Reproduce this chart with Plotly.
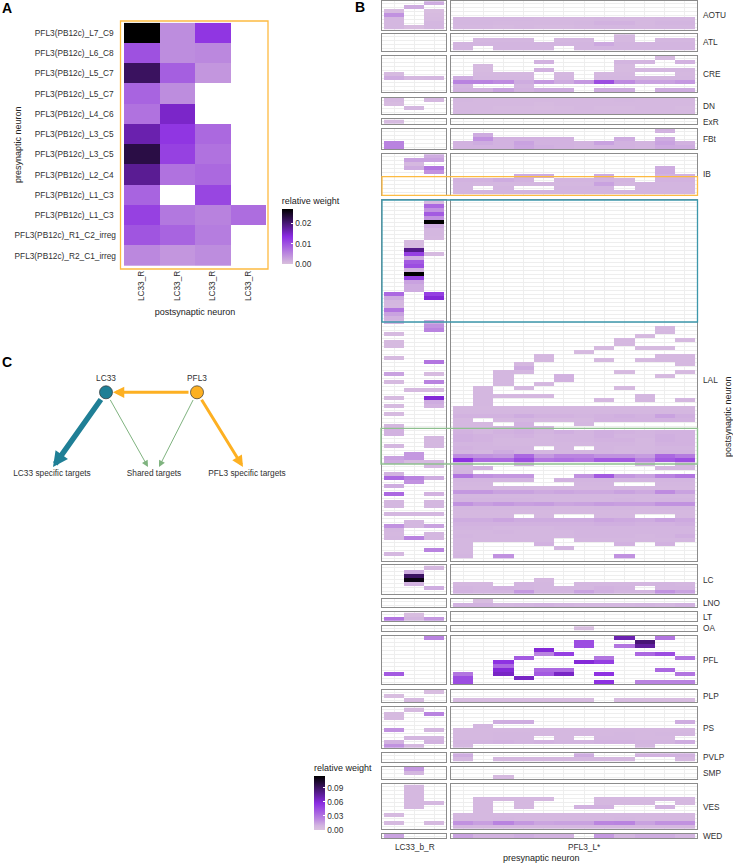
import plotly.graph_objects as go

W, H = 733, 863
FONT = "Liberation Sans"
TXT = "#303030"

# panel A, relative weight
pre_labels = ["PFL3(PB12c)_L7_C9", "PFL3(PB12c)_L6_C8", "PFL3(PB12c)_L5_C7", "PFL3(PB12c)_L5_C7",
              "PFL3(PB12c)_L4_C6", "PFL3(PB12c)_L3_C5", "PFL3(PB12c)_L3_C5", "PFL3(PB12c)_L2_C4",
              "PFL3(PB12c)_L1_C3", "PFL3(PB12c)_L1_C3", "PFL3(PB12c)_R1_C2_irreg", "PFL3(PB12c)_R2_C1_irreg"]
post_labels = ["LC33_R", "LC33_R", "LC33_R", "LC33_R"]
a_weights = [
    [.0270, .0046, .0125, None],
    [.0100, .0046, .0050, None],
    [.0213, .0088, .0037, None],
    [.0083, .0046, None, None],
    [.0070, .0150, None, None],
    [.0166, .0125, .0078, None],
    [.0229, .0115, .0070, None],
    [.0182, .0070, .0078, None],
    [.0083, None, .0110, None],
    [.0115, .0065, .0056, .0075],
    [.0097, .0083, .0060, None],
    [.0050, .0037, .0046, None],
]

# panel B, weights in thousandths, 0 = no connection
AOTU_L = [[0, 0, 12], [0, 12, 0], [5, 0, 4], [20, 0, 5], [8, 0, 6], [8, 0, 8], [8, 4, 8]]
AOTU_R = [[0] * 12, [0] * 12, [0] * 12, [0] * 12,
          [8, 8, 8, 8, 7, 7, 7, 8, 7, 7, 8, 8],
          [8, 8, 7, 7, 7, 7, 8, 10, 10, 7, 9, 9],
          [7, 7, 6, 7, 6, 6, 7, 8, 8, 7, 8, 8]]
ATL_L = [[0, 0, 0], [0, 0, 0], [0, 0, 0], [0, 0, 0]]
ATL_R = [[0, 0, 0, 0, 0, 0, 0, 0, 7, 0, 0, 0],
         [0, 8, 8, 8, 0, 8, 8, 0, 7, 0, 8, 8],
         [9, 9, 9, 9, 9, 9, 9, 13, 9, 9, 9, 9],
         [9, 0, 9, 9, 9, 0, 9, 9, 9, 9, 9, 9]]
CRE_L = [[0, 0, 0], [0, 0, 0], [0, 0, 0], [0, 0, 0], [6, 0, 0], [12, 7, 8], [0, 0, 0], [0, 0, 0], [0, 0, 0]]
CRE_R = [[0, 0, 0, 0, 0, 0, 0, 0, 0, 0, 6, 0],
         [0, 0, 0, 0, 10, 0, 0, 0, 9, 9, 0, 10],
         [0, 6, 0, 0, 0, 0, 0, 0, 6, 0, 0, 0],
         [0, 6, 0, 0, 10, 0, 0, 0, 6, 8, 8, 8],
         [0, 7, 7, 7, 0, 7, 0, 7, 7, 0, 0, 7],
         [12, 8, 8, 8, 0, 8, 0, 8, 8, 8, 8, 8],
         [25, 25, 22, 12, 18, 12, 18, 45, 22, 15, 15, 18],
         [9, 0, 0, 9, 0, 0, 0, 0, 0, 0, 0, 0],
         [10, 10, 15, 10, 12, 12, 0, 12, 12, 0, 12, 12]]
DN_L = [[7, 0, 7], [5, 0, 0], [0, 8, 0], [0, 0, 0]]
DN_R = [[8, 7, 7, 7, 7, 7, 7, 7, 8, 7, 7, 7],
        [7, 7, 7, 7, 6, 7, 7, 7, 7, 7, 7, 7],
        [7, 7, 6, 6, 5, 6, 7, 6, 6, 7, 7, 6],
        [8, 7, 7, 7, 7, 7, 7, 7, 7, 7, 7, 7]]
EXR_L = [[6, 0, 0]]
EXR_R = [[0] * 12]
FBT_L = [[0, 0, 0], [0, 0, 0], [0, 0, 0], [25, 0, 0], [25, 0, 0]]
FBT_R = [[0, 0, 0, 0, 0, 0, 0, 0, 0, 0, 10, 0],
         [0, 12, 0, 0, 0, 0, 0, 0, 0, 0, 0, 0],
         [0, 20, 10, 10, 10, 10, 0, 0, 12, 0, 12, 0],
         [10, 12, 10, 15, 10, 10, 9, 15, 10, 9, 15, 10],
         [10, 10, 10, 14, 11, 10, 9, 10, 10, 9, 13, 12]]
IB_L = [[0, 0, 12], [0, 15, 15], [0, 7, 0], [0, 12, 30], [0, 0, 20], [0, 0, 0], [0, 0, 0], [0, 0, 0], [0, 0, 0], [0, 0, 0]]
IB_R = [[0] * 12, [0] * 12, [0] * 12,
        [0, 0, 0, 0, 0, 0, 0, 0, 0, 0, 12, 0],
        [0, 0, 0, 0, 0, 0, 0, 0, 0, 0, 12, 0],
        [0, 0, 0, 12, 12, 0, 0, 12, 0, 0, 10, 10],
        [10, 10, 12, 10, 0, 9, 9, 10, 9, 0, 10, 10],
        [9, 8, 8, 8, 8, 8, 8, 15, 8, 9, 9, 9],
        [9, 0, 9, 0, 0, 9, 9, 9, 0, 9, 9, 9],
        [9, 9, 9, 9, 9, 9, 9, 9, 9, 9, 9, 9]]
LAL_L = [[0, 0, 6], [0, 0, 35], [0, 0, 20], [0, 0, 40], [0, 0, 20], [0, 0, 115], [0, 0, 12], [0, 0, 8], [0, 0, 8],
         [0, 0, 7], [0, 6, 0], [0, 6, 0], [0, 80, 0], [0, 50, 6], [0, 12, 0], [0, 40, 0], [0, 45, 0], [0, 10, 0],
         [0, 115, 0], [0, 50, 0], [0, 15, 0], [0, 12, 0], [0, 12, 0], [35, 0, 50], [12, 0, 60], [8, 0, 0], [7, 0, 0],
         [30, 0, 0], [15, 0, 0], [10, 0, 0], [8, 0, 12], [0, 0, 20], [0, 0, 25], [6, 0, 0], [0, 0, 0], [6, 0, 0],
         [6, 0, 0], [0, 0, 0], [0, 0, 0], [6, 0, 0], [0, 0, 30], [0, 0, 0], [0, 0, 0], [15, 0, 5], [0, 0, 0],
         [6, 0, 25], [0, 0, 0], [0, 6, 6], [0, 0, 0], [6, 0, 60], [0, 0, 12], [6, 0, 10], [0, 0, 0], [6, 0, 0],
         [0, 0, 0], [0, 0, 0], [8, 0, 0], [10, 0, 0], [10, 0, 0], [0, 0, 8], [0, 0, 8], [8, 0, 8], [0, 0, 0],
         [0, 18, 0], [15, 18, 0], [12, 6, 7], [0, 0, 7], [0, 0, 0], [10, 0, 0], [35, 25, 12], [0, 20, 0], [12, 0, 0],
         [0, 0, 0], [35, 0, 10], [0, 0, 0], [8, 0, 8], [8, 0, 8], [0, 0, 0], [8, 8, 8], [0, 0, 0], [0, 8, 0],
         [20, 8, 15], [8, 0, 0], [7, 0, 8], [8, 25, 8], [0, 0, 0], [0, 0, 0], [0, 0, 25], [7, 0, 0], [0, 0, 0]]
LAL_R_TOP = [[0] * 12 for row in range(31)]  # rows 0-30 have no PFL3 input
LAL_R_REST = [
    [0, 0, 0, 0, 0, 0, 0, 0, 0, 0, 7, 0],
    [0, 0, 0, 0, 0, 0, 0, 0, 0, 0, 7, 0],
    [0, 0, 0, 0, 0, 0, 0, 0, 0, 6, 0, 0],
    [0, 0, 0, 0, 0, 0, 0, 0, 7, 0, 0, 6],
    [0, 0, 0, 0, 0, 0, 0, 0, 7, 0, 0, 0],
    [0, 0, 0, 0, 0, 0, 0, 6, 0, 6, 6, 0],
    [0, 0, 0, 0, 0, 0, 6, 0, 0, 0, 0, 0],
    [0, 0, 0, 0, 7, 0, 0, 0, 0, 0, 7, 7],
    [0, 0, 0, 0, 7, 0, 0, 6, 0, 6, 7, 7],
    [0, 0, 0, 7, 0, 0, 0, 0, 0, 0, 0, 7],
    [0, 0, 0, 12, 0, 0, 0, 0, 0, 0, 0, 0],
    [0, 0, 8, 8, 0, 0, 0, 0, 6, 0, 0, 6],
    [0, 0, 8, 0, 0, 10, 0, 0, 0, 0, 6, 0],
    [0, 0, 8, 0, 0, 10, 0, 0, 0, 0, 0, 0],
    [0, 0, 8, 0, 7, 0, 0, 0, 0, 0, 0, 0],
    [0, 7, 0, 7, 0, 0, 0, 0, 6, 0, 0, 0],
    [0, 8, 0, 0, 0, 0, 0, 0, 0, 0, 0, 0],
    [0, 8, 7, 7, 7, 0, 0, 0, 0, 8, 0, 0],
    [0, 8, 0, 0, 0, 0, 0, 7, 0, 8, 0, 8],
    [0, 8, 0, 0, 0, 0, 0, 0, 0, 0, 0, 0],
    [7, 7, 7, 7, 7, 7, 7, 7, 7, 7, 7, 7],
    [8, 8, 8, 8, 8, 8, 8, 8, 8, 8, 8, 8],
    [10, 10, 10, 12, 10, 10, 9, 10, 11, 10, 15, 11],
    [7, 0, 7, 8, 7, 7, 7, 10, 10, 10, 10, 10],
    [7, 7, 0, 10, 0, 0, 8, 0, 0, 0, 0, 0],
    [7, 7, 7, 10, 8, 0, 0, 0, 0, 0, 0, 0],
    [10, 8, 10, 11, 9, 11, 9, 11, 10, 9, 10, 10],
    [11, 10, 9, 10, 8, 9, 9, 11, 9, 9, 11, 10],
    [11, 10, 8, 8, 8, 9, 9, 10, 10, 8, 11, 10],
    [9, 9, 8, 8, 8, 8, 8, 9, 9, 8, 10, 10],
    [10, 9, 9, 9, 0, 8, 0, 9, 8, 8, 9, 9],
    [9, 8, 12, 9, 8, 8, 8, 9, 8, 9, 10, 10],
    [22, 20, 18, 35, 18, 24, 24, 20, 20, 17, 35, 28],
    [55, 35, 35, 45, 30, 32, 30, 40, 40, 25, 40, 45],
    [8, 0, 0, 8, 0, 0, 0, 0, 0, 7, 0, 8],
    [8, 10, 0, 0, 0, 0, 0, 0, 0, 0, 7, 7],
    [9, 0, 0, 0, 0, 0, 0, 0, 0, 0, 0, 0],
    [30, 20, 18, 18, 0, 0, 20, 40, 18, 15, 25, 30],
    [9, 9, 9, 9, 0, 10, 9, 9, 9, 9, 9, 9],
    [8, 8, 0, 0, 0, 0, 8, 8, 0, 0, 8, 8],
    [7, 7, 7, 7, 7, 7, 7, 7, 7, 7, 7, 7],
    [18, 18, 15, 15, 13, 14, 13, 13, 15, 13, 22, 15],
    [8, 8, 8, 8, 8, 8, 8, 8, 8, 8, 8, 8],
    [9, 9, 9, 9, 8, 8, 8, 8, 9, 8, 9, 9],
    [20, 16, 18, 16, 17, 14, 15, 17, 16, 16, 20, 20],
    [8, 8, 8, 8, 8, 7, 7, 8, 8, 7, 8, 8],
    [7, 7, 7, 7, 7, 7, 7, 7, 7, 7, 7, 7],
    [7, 7, 7, 0, 7, 0, 0, 7, 7, 0, 0, 7],
    [12, 12, 14, 12, 12, 12, 12, 14, 13, 12, 15, 13],
    [10, 10, 10, 10, 10, 10, 10, 11, 11, 10, 10, 11],
    [9, 9, 8, 8, 8, 9, 9, 9, 9, 9, 9, 9],
    [8, 8, 9, 8, 8, 8, 9, 9, 9, 9, 9, 9],
    [9, 8, 8, 8, 8, 8, 9, 9, 9, 8, 9, 11],
    [8, 8, 8, 8, 8, 0, 8, 8, 8, 8, 8, 8],
    [8, 0, 0, 0, 10, 0, 0, 0, 10, 0, 10, 0],
    [8, 0, 0, 0, 0, 9, 0, 0, 0, 0, 0, 0],
    [8, 0, 0, 0, 0, 0, 0, 0, 0, 0, 0, 0],
    [9, 0, 20, 0, 0, 0, 0, 0, 20, 0, 0, 0],
]
LAL_R = LAL_R_TOP + LAL_R_REST
LC_L = [[0, 0, 7], [0, 12, 0], [0, 90, 0], [0, 110, 0], [0, 10, 0], [0, 0, 12], [0, 0, 0]]
LC_R = [[0] * 12, [0] * 12, [0] * 12,
        [0, 0, 0, 0, 7, 0, 0, 0, 0, 0, 0, 0],
        [7, 7, 0, 9, 8, 0, 8, 8, 8, 8, 9, 8],
        [9, 8, 10, 9, 8, 8, 8, 10, 9, 0, 9, 9],
        [10, 9, 9, 18, 9, 9, 15, 11, 9, 9, 20, 15]]
LNO_L = [[0, 0, 0], [0, 0, 0]]
LNO_R = [[0, 4, 0, 0, 0, 0, 0, 0, 0, 0, 0, 0],
         [10, 10, 8, 9, 10, 9, 8, 8, 8, 9, 8, 10]]
LT_L = [[0, 4, 0], [30, 8, 18]]
LT_R = [[0] * 12, [0] * 12]
OA_L = [[0, 0, 0]]
OA_R = [[0, 0, 0, 0, 0, 0, 3, 0, 0, 0, 0, 0]]
PFL_L = [[0, 0, 25], [0, 0, 0], [0, 0, 0], [0, 0, 0], [0, 0, 0], [0, 0, 0], [0, 0, 0], [0, 0, 0], [0, 0, 0],
         [40, 0, 0], [0, 0, 0], [0, 0, 0]]
PFL_R = [[0, 0, 0, 0, 0, 0, 0, 0, 70, 0, 30, 0],
         [0, 0, 0, 0, 0, 0, 45, 0, 0, 85, 0, 0],
         [0, 0, 0, 0, 0, 0, 45, 0, 30, 75, 0, 0],
         [0, 0, 0, 0, 60, 0, 0, 0, 0, 0, 0, 0],
         [0, 0, 0, 0, 25, 50, 0, 0, 0, 35, 45, 0],
         [0, 0, 0, 40, 0, 0, 0, 30, 0, 0, 0, 30],
         [0, 0, 55, 0, 0, 0, 60, 50, 0, 0, 0, 0],
         [0, 0, 35, 0, 0, 0, 0, 0, 0, 0, 0, 0],
         [0, 0, 60, 0, 35, 35, 0, 0, 0, 0, 35, 0],
         [30, 0, 65, 0, 40, 65, 0, 55, 0, 0, 0, 30],
         [45, 0, 0, 65, 0, 0, 0, 0, 0, 0, 0, 0],
         [45, 0, 0, 0, 0, 0, 0, 55, 0, 25, 25, 25]]
PLP_L = [[0, 0, 4], [4, 0, 0], [0, 6, 0]]
PLP_R = [[0] * 12, [0] * 12, [5, 5, 5, 5, 5, 5, 5, 0, 5, 5, 5, 5]]
PS_L = [[0, 6, 0], [6, 0, 25], [6, 0, 0], [0, 0, 0], [0, 0, 0], [20, 0, 8], [0, 0, 0], [0, 8, 8], [10, 0, 10], [20, 7, 0]]
PS_R = [[0] * 12, [0] * 12, [0] * 12,
        [0, 0, 12, 12, 0, 0, 0, 0, 0, 0, 0, 12],
        [0, 8, 0, 0, 0, 0, 0, 0, 0, 0, 0, 0],
        [7, 7, 7, 7, 7, 7, 7, 7, 7, 7, 7, 7],
        [7, 7, 8, 8, 7, 7, 7, 7, 8, 7, 8, 8],
        [7, 7, 8, 8, 0, 7, 0, 8, 8, 7, 7, 0],
        [9, 9, 10, 9, 10, 9, 9, 10, 10, 9, 9, 12],
        [8, 0, 0, 0, 0, 0, 0, 0, 0, 8, 0, 0]]
PVLP_L = [[0, 0, 0], [0, 0, 0]]
PVLP_R = [[12, 0, 0, 0, 0, 0, 12, 0, 0, 10, 10, 10],
          [8, 0, 7, 7, 7, 7, 7, 7, 7, 0, 0, 7]]
SMP_L = [[0, 18, 0], [0, 8, 0], [0, 0, 0]]
SMP_R = [[0] * 12, [0] * 12, [0, 0, 6, 0, 0, 0, 0, 0, 0, 0, 0, 0]]
VES_L = [[0, 7, 0], [0, 7, 0], [0, 7, 0], [0, 7, 0], [0, 7, 7], [0, 7, 0], [0, 0, 0], [6, 0, 0], [0, 0, 0], [6, 0, 6], [0, 0, 0]]
VES_R = [[0] * 12, [0] * 12, [0] * 12,
         [0, 7, 7, 7, 7, 0, 0, 7, 7, 7, 7, 7],
         [0, 7, 0, 7, 0, 0, 0, 7, 7, 7, 0, 7],
         [0, 7, 0, 7, 0, 0, 10, 10, 0, 0, 10, 0],
         [0, 7, 0, 0, 0, 0, 0, 0, 0, 0, 0, 0],
         [7, 7, 7, 7, 7, 7, 7, 7, 7, 7, 7, 7],
         [7, 7, 8, 7, 7, 7, 7, 7, 8, 7, 7, 7],
         [20, 16, 25, 18, 14, 15, 15, 24, 25, 15, 20, 20],
         [8, 7, 7, 7, 7, 7, 7, 7, 7, 7, 7, 7]]
WED_L = [[15, 0, 0]]
WED_R = [[15, 10, 10, 12, 10, 10, 0, 18, 9, 12, 12, 9]]

region_names = ["AOTU", "ATL", "CRE", "DN", "ExR", "FBt", "IB", "LAL", "LC", "LNO", "LT", "OA", "PFL", "PLP", "PS",
                "PVLP", "SMP", "VES", "WED"]
region_left = [AOTU_L, ATL_L, CRE_L, DN_L, EXR_L, FBT_L, IB_L, LAL_L, LC_L, LNO_L, LT_L, OA_L, PFL_L, PLP_L, PS_L,
               PVLP_L, SMP_L, VES_L, WED_L]
region_right = [AOTU_R, ATL_R, CRE_R, DN_R, EXR_R, FBT_R, IB_R, LAL_R, LC_R, LNO_R, LT_R, OA_R, PFL_R, PLP_R, PS_R,
                PVLP_R, SMP_R, VES_R, WED_R]

# panel C network, in the units of its own axes
node_x = [106, 197]
node_y = [392.3, 392.3]
node_names = ["LC33", "PFL3"]
target_x = [52, 154, 247]
target_y = [474, 474, 474]
target_names = ["LC33 specific targets", "Shared targets", "PFL3 specific targets"]

WEIGHT_COLORS_A = [[0, "#D8BFDC"], [0.5, "#8A2BE2"], [1, "#000000"]]
WEIGHT_COLORS_B = [[0, "#DBC3E0"], [0.08, "#D3B5E0"], [0.2, "#BC88E0"], [0.5, "#8A2BE2"], [1, "#000000"]]
ROW_PX = 4
# top of the first row of every region, px
region_tops = [1.3, 34.3, 56, 98, 119.7, 129, 154.3, 200.3, 565.7, 599, 612.7, 626.3, 636, 690, 707.7, 753.3, 767,
               784.7, 834]
LEFT_X = (382, 446)
RIGHT_X = (451, 697)


def px_x(x):
    return x / W


def px_y(y):
    return 1 - y / H


def cells(rows):
    return [[None if v == 0 else v / 1000 for v in row] for row in rows]


def colorbar(top, height, left, vals, fmt):
    return dict(title=dict(text="relative weight", side="top", font=dict(family=FONT, size=9, color="#222222")),
                x=px_x(left), xanchor="left", xpad=0, y=px_y(top), yanchor="top", ypad=0,
                len=height, lenmode="pixels", thickness=11, thicknessmode="pixels",
                outlinewidth=0, borderwidth=0, tickvals=vals, tickformat=fmt, ticks="inside", ticklen=2,
                tickcolor="white", tickfont=dict(family=FONT, size=8.3, color=TXT))


fig = go.Figure()
layout = {}

# panel A
fig.add_trace(go.Heatmap(z=a_weights, x=list(range(4)), y=list(range(12)), coloraxis="coloraxis",
                         hoverongaps=False, xaxis="x", yaxis="y"))
layout["xaxis"] = dict(domain=[px_x(124), px_x(266)], range=[-0.5, 3.5], anchor="y", showgrid=False, zeroline=False,
                       tickmode="array", tickvals=list(range(4)), ticktext=post_labels, tickangle=-90, ticks="",
                       ticklabelstandoff=2, tickfont=dict(family=FONT, size=8.3, color=TXT),
                       title=dict(text="postsynaptic neuron", standoff=8, font=dict(family=FONT, size=9, color="#222222")))
layout["yaxis"] = dict(domain=[px_y(266), px_y(22.7)], range=[11.5, -0.5], anchor="x", showgrid=False, zeroline=False,
                       tickmode="array", tickvals=list(range(12)), ticks="", ticklabelstandoff=7,
                       ticktext=[t if "irreg" in t else t + "\u00a0" for t in pre_labels],
                       tickfont=dict(family=FONT, size=8.3, color=TXT))

annots = []


def label(text, x, y, size=8.3, color=TXT, angle=0, xanchor="center", bold=False):
    annots.append(dict(text=f"<b>{text}</b>" if bold else text, x=px_x(x), y=px_y(y), xref="paper", yref="paper",
                       showarrow=False, textangle=angle, xanchor=xanchor, yanchor="middle",
                       font=dict(family=FONT, size=size, color=color)))


# panel B, two facets per region
ax = 2
for name, left, right, top in zip(region_names, region_left, region_right, region_tops):
    n = len(left)
    bottom = top + n * ROW_PX
    for rows, span in ((left, LEFT_X), (right, RIGHT_X)):
        ncol = len(rows[0])
        fig.add_trace(go.Heatmap(z=cells(rows), x=list(range(ncol)), y=list(range(n)), coloraxis="coloraxis2",
                                 hoverongaps=False, xaxis=f"x{ax}", yaxis=f"y{ax}"))
        layout[f"xaxis{ax}"] = dict(domain=[px_x(span[0]), px_x(span[1])], range=[-0.6, ncol - 0.4], anchor=f"y{ax}",
                                    showticklabels=False, ticks="", tick0=0, dtick=1, zeroline=False,
                                    showgrid=True, gridcolor="#EEEEEE", gridwidth=0.7,
                                    showline=True, mirror=True, linecolor="#8C8C8C", linewidth=1)
        layout[f"yaxis{ax}"] = dict(domain=[px_y(bottom + 0.4), px_y(top - 0.4)], range=[n - 0.4, -0.6], anchor=f"x{ax}",
                                    showticklabels=False, ticks="", tick0=0, dtick=1, zeroline=False,
                                    showgrid=True, gridcolor="#EEEEEE", gridwidth=0.7,
                                    showline=True, mirror=True, linecolor="#8C8C8C", linewidth=1)
        ax += 1
    label(name, 700.7, (top + bottom) / 2, xanchor="left")

label("LC33_b_R", 415, 846.7)
label("PFL3_L*", 584.3, 846.7)
label("presynaptic neuron", 541.7, 858, size=9, color="#222222")
label("postsynaptic neuron", 728, 417, size=9, color="#222222", angle=-90)
label("presynaptic neuron", 18, 145, size=9, color="#222222", angle=-90)
label("A", 0, 8, size=14, color="#000000", xanchor="left", bold=True)
label("B", 353, 7, size=14, color="#000000", xanchor="left", bold=True)
label("C", 0, 362, size=14, color="#000000", xanchor="left", bold=True)

# panel C
NET = ax
layout[f"xaxis{NET}"] = dict(domain=[0, px_x(300)], range=[0, 300], anchor=f"y{NET}", visible=False)
layout[f"yaxis{NET}"] = dict(domain=[px_y(490), px_y(350)], range=[490, 350], anchor=f"x{NET}", visible=False)
fig.add_trace(go.Scatter(x=node_x, y=node_y, mode="markers+text", text=node_names, textposition="top center",
                         textfont=dict(family=FONT, size=8.3, color=TXT), cliponaxis=False,
                         marker=dict(size=13, color=["#1F7F96", "#FDB022"], line=dict(color="#333333", width=0.7)),
                         xaxis=f"x{NET}", yaxis=f"y{NET}", showlegend=False))
fig.add_trace(go.Scatter(x=target_x, y=target_y, mode="text", text=target_names,
                         textfont=dict(family=FONT, size=8.3, color=TXT), cliponaxis=False,
                         xaxis=f"x{NET}", yaxis=f"y{NET}", showlegend=False))


def arrow(x0, y0, x1, y1, color, width, size):
    annots.append(dict(x=x1, y=y1, ax=x0, ay=y0, xref=f"x{NET}", yref=f"y{NET}", axref=f"x{NET}", ayref=f"y{NET}",
                       text="", showarrow=True, arrowhead=2, arrowsize=size, arrowwidth=width, arrowcolor=color,
                       startstandoff=7))


arrow(node_x[1], node_y[1], node_x[0] + 7, node_y[0], "#FDB022", 3, 0.75)
arrow(node_x[0], node_y[0], 53, 467, "#1F7F96", 5.5, 0.55)
arrow(node_x[1], node_y[1], 243, 467, "#FDB022", 3, 0.75)
arrow(node_x[0], node_y[0], 148, 467, "#7FB37F", 1, 1.3)
arrow(node_x[1], node_y[1], 159, 467, "#7FB37F", 1, 1.3)

shapes = [
    dict(type="rect", xref="paper", yref="paper", x0=px_x(120.5), x1=px_x(268), y0=px_y(269), y1=px_y(21),
         line=dict(color="#FDBB42", width=1.3), fillcolor="rgba(0,0,0,0)"),
    dict(type="rect", xref="paper", yref="paper", x0=px_x(382), x1=px_x(697.5), y0=px_y(195.3), y1=px_y(176.7),
         line=dict(color="#FDBB42", width=1.3), fillcolor="rgba(0,0,0,0)"),
    dict(type="rect", xref="paper", yref="paper", x0=px_x(382), x1=px_x(697.5), y0=px_y(322), y1=px_y(200),
         line=dict(color="#3C97AB", width=1.3), fillcolor="rgba(0,0,0,0)"),
    dict(type="rect", xref="paper", yref="paper", x0=px_x(381), x1=px_x(697.5), y0=px_y(464), y1=px_y(428.4),
         line=dict(color="#8FC08F", width=1.3), fillcolor="rgba(0,0,0,0)"),
]

fig.update_layout(
    width=W, height=H, margin=dict(l=0, r=0, t=0, b=0), paper_bgcolor="white", plot_bgcolor="white",
    showlegend=False, annotations=annots, shapes=shapes,
    coloraxis=dict(cmin=0, cmax=0.027, colorscale=WEIGHT_COLORS_A,
                   colorbar=colorbar(194, 69.5, 281.7, [0, 0.01, 0.02], ".2f")),
    coloraxis2=dict(cmin=0, cmax=0.115, colorscale=WEIGHT_COLORS_B,
                    colorbar=colorbar(761, 69, 314, [0, 0.03, 0.06, 0.09], ".2f")),
    **layout)

fig.write_html("out.html", config={"displayModeBar": False}, post_script="document.body.style.margin='0';")
